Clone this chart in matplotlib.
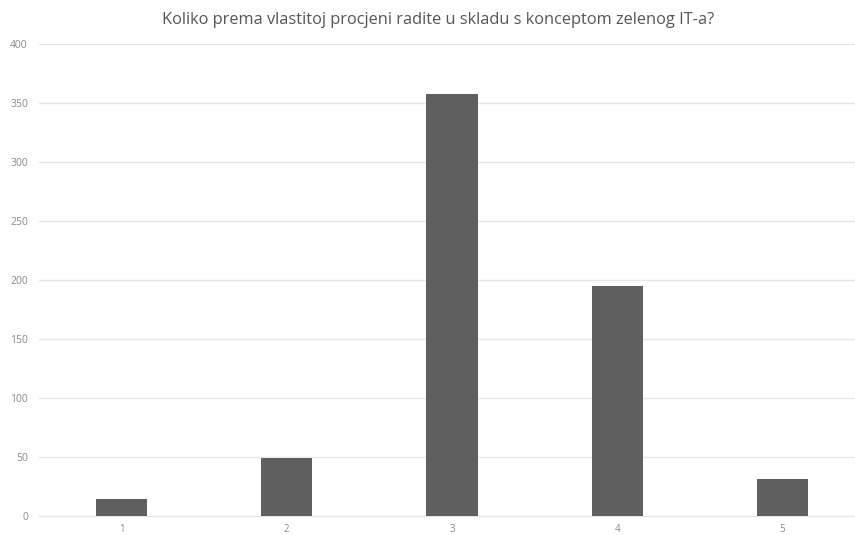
import matplotlib
matplotlib.use("Agg")
import matplotlib.pyplot as plt

categories = ["1", "2", "3", "4", "5"]
counts = [14, 49, 358, 195, 31]
y_ticks = [0, 50, 100, 150, 200, 250, 300, 350, 400]
title = "Koliko prema vlastitoj procjeni radite u skladu s konceptom zelenog IT-a?"

plt.rcParams["font.family"] = ["Open Sans", "DejaVu Sans"]

fig = plt.figure(figsize=(8.55, 5.35), dpi=100)
ax = fig.add_axes([0.0456, 0.0355, 0.9544, 0.8823])

positions = range(1, len(categories) + 1)
ax.bar(positions, counts, width=0.31, color="#5f5f5f", zorder=3)

ax.set_xlim(0.5, 5.44)
ax.set_ylim(0, 400)
ax.set_yticks(y_ticks)
ax.set_xticks(list(positions))
ax.set_xticklabels(categories)

ax.grid(axis="y", color="#e6e6e6", linewidth=1.0, zorder=0)
ax.tick_params(axis="both", length=0, labelsize=7.5, labelcolor="#8a8a8a")
ax.tick_params(axis="y", pad=8)
ax.tick_params(axis="x", labelsize=7, pad=6)
for side in ["top", "right", "left", "bottom"]:
    ax.spines[side].set_visible(False)
ax.spines["bottom"].set_visible(True)
ax.spines["bottom"].set_color("#e3e3e3")

fig.text(0.513, 0.9625, title, ha="center", va="center", fontsize=11.8, color="#555555")

fig.savefig("out.png", dpi=100, facecolor="white")
